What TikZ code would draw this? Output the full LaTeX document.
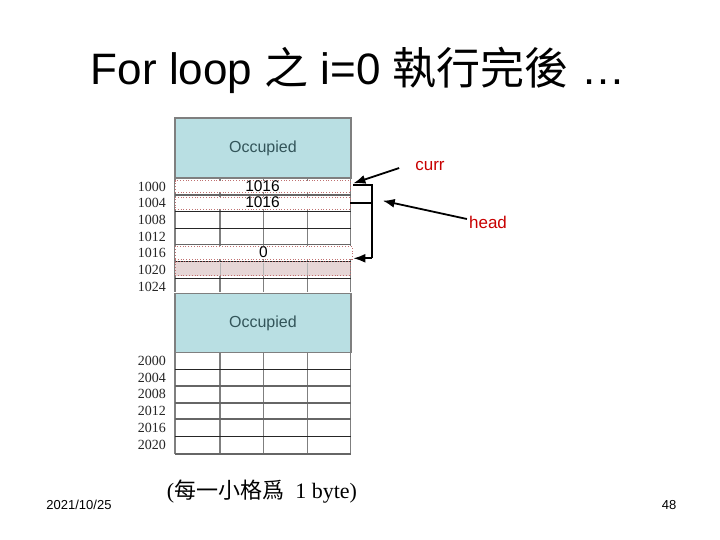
\documentclass[tikz,border=0pt]{standalone}
\usepackage{fontspec}
\setmainfont{Liberation Sans}
\newfontfamily\cjk{Noto Sans CJK TC}
\newfontfamily\serif{Liberation Serif}
\usetikzlibrary{arrows.meta}
\definecolor{occfill}{HTML}{B9DFE3}
\definecolor{occtext}{HTML}{33555A}
\definecolor{gridgray}{HTML}{7F7F7F}
\definecolor{dotred}{HTML}{C07070}
\definecolor{shade}{HTML}{E6D6D6}
\definecolor{lblred}{HTML}{C80000}
\tikzset{
  occ/.style={draw=gridgray, line width=1.5pt, fill=occfill, minimum width=175.7pt, inner sep=0pt, text=occtext, font=\fontsize{16}{16}\selectfont},
  vline/.style={draw=gridgray, line width=1.5pt},
  hthin/.style={draw=black!85, line width=1pt},
  hthick/.style={draw=gridgray!80!black, line width=1.6pt},
  rowbox/.style={draw=dotred, dotted, line width=0.8pt, fill=white, minimum width=175pt, inner sep=0pt, font=\fontsize{15.5}{15.5}\selectfont},
  addr/.style={anchor=east, inner sep=0pt, font=\serif\fontsize{14}{14}\selectfont, text=black!85},
  lbl/.style={text=lblred, inner sep=0pt, font=\fontsize{17}{17}\selectfont},
  line/.style={draw=black, line width=1.8pt},
  arr/.style={draw=black, line width=1.8pt, -{Latex[length=12pt,width=9pt]}},
}
\begin{document}
\begin{tikzpicture}[x=1pt,y=-1pt]
\useasboundingbox (0,0) rectangle (720,540);
% title
\node (title) at (358,70) {\fontsize{44}{44}\selectfont For loop {\cjk 之} i=0 {\cjk 執行完後} …};
% occupied blocks
\node[occ, minimum height=60pt] (occ1) at (262.9,148) {Occupied};
\node[occ, minimum height=59.4pt] (occ2) at (262.9,323) {Occupied};
% first block grid
\foreach \x in {220,263.3,307.3} \draw[vline] (\x,178) -- (\x,292);
\draw[vline] (175,178) -- (175,292);
\draw[vline] (350.7,178) -- (350.7,292);
\draw[hthick] (175,195) -- (350.7,195);
\draw[hthin] (175,211.7) -- (350.7,211.7);
\draw[hthin] (175,228.3) -- (350.7,228.3);
\draw[hthick] (175,244.3) -- (350.7,244.3);
\draw[hthin] (175,261) -- (350.7,261);
\draw[hthin] (175,278.3) -- (350.7,278.3);
% second block grid
\foreach \x in {220,263.3,307.3} \draw[vline] (\x,352.7) -- (\x,454);
\draw[vline] (175,352.7) -- (175,454);
\draw[vline] (350.7,352.7) -- (350.7,454);
\draw[hthin] (175,369.3) -- (350.7,369.3);
\draw[hthick] (175,386) -- (350.7,386);
\draw[hthick] (175,402.7) -- (350.7,402.7);
\draw[hthick] (175,419) -- (350.7,419);
\draw[hthin] (175,436) -- (350.7,436);
\draw[hthick] (175,454) -- (350.7,454);
% highlighted rows
\node[rowbox, minimum height=11.3pt] (r1000) at (262.5,186.3) {\raisebox{-1pt}{1016}\hspace{7pt}};
\node[rowbox, minimum height=12pt] (r1004) at (262.5,203) {\raisebox{1pt}{1016}\hspace{7pt}};
\node[rowbox, minimum height=12.3pt, minimum width=177pt] (r1016) at (263.5,252.8) {\raisebox{2pt}{0}\hspace{7pt}};
\node[rowbox, minimum height=14pt, fill=shade] (r1020) at (262.5,268.7) {};
\foreach \x in {220,263.3,307.3} \draw[draw=gridgray!60, line width=1pt] (\x,262.5) -- (\x,275);
% address labels
\foreach \a/\y in {1000/186.5,1004/203.2,1008/219.9,1012/236.6,1016/253.3,1020/270,1024/286.7}
  \node[addr] (a\a) at (166,\y) {\a};
\foreach \a/\y in {2000/361,2004/377.7,2008/394.4,2012/411.1,2016/427.8,2020/444.5}
  \node[addr] (a\a) at (166,\y) {\a};
% pointers
\node[lbl] (curr) at (430,166) {curr};
\node[lbl] (head) at (488,222) {head};
\coordinate (bt) at (371.7,185);
\coordinate (bb) at (371.7,258.3);
\coordinate (hp) at (382.7,200.7);
\draw[arr] ([shift={(-16,2)}]curr.west) -- ([shift={(3,-3)}]r1000.east);
\draw[line] ([xshift=3pt]r1000.east |- bt) -- (bt) -- (bb);
\draw[line] (r1004.east) -- (r1004.east -| bt);
\draw[arr] (bb) -- ([xshift=1pt]r1016.east |- bb);
\draw[arr] ([shift={(-2,-3)}]head.west) -- (hp);
% caption and footer
\node (cap) at (262,492) {\fontsize{22}{22}\selectfont\serif (\cjk 每一小格爲\serif\ \ 1 byte)};
\node (date) at (79,505) {\fontsize{13}{13}\selectfont 2021/10/25};
\node (page) at (669,505) {\fontsize{13}{13}\selectfont 48};
\end{tikzpicture}
\end{document}
